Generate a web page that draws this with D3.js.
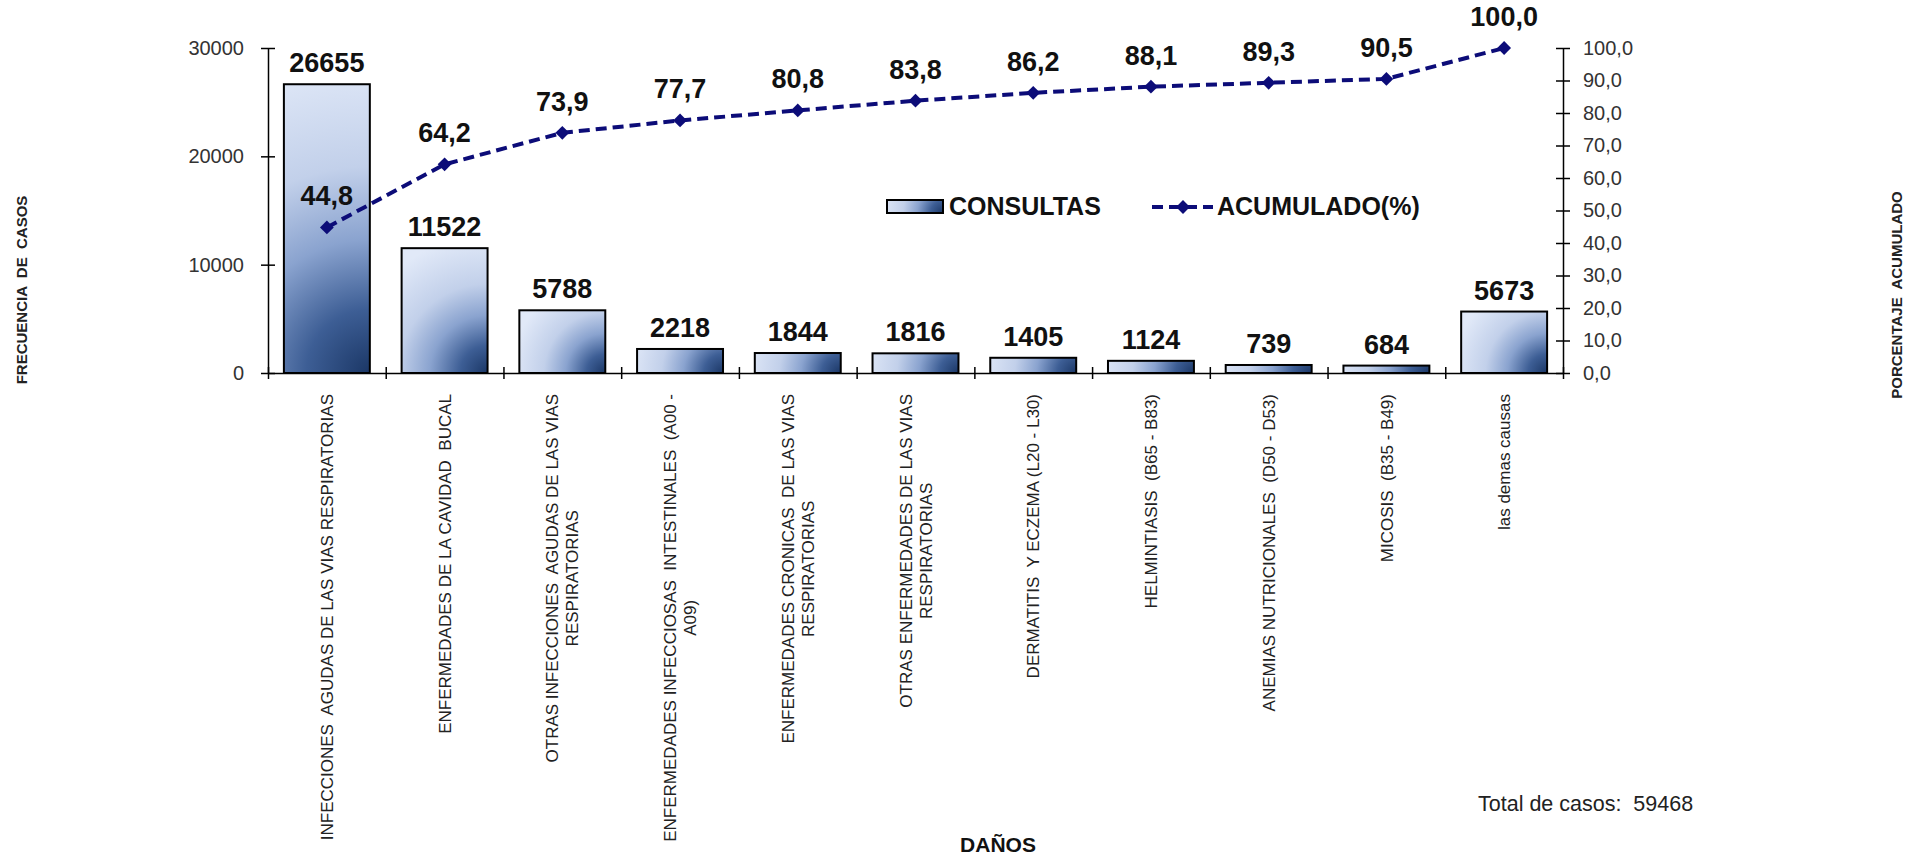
<!DOCTYPE html>
<html>
<head>
<meta charset="utf-8">
<script src="https://cdn.jsdelivr.net/npm/d3@7"></script>
<style>
  html, body { margin: 0; padding: 0; background: #ffffff; }
  svg { display: block; font-family: "Liberation Sans", Arial, Helvetica, sans-serif; }
  svg text { white-space: pre; }
</style>
</head>
<body>
<svg id="chart" width="1917" height="858"></svg>
<script>
// Categories (line breaks mark where the rotated label wraps)
const categories = [
  "INFECCIONES  AGUDAS DE LAS VIAS RESPIRATORIAS",
  "ENFERMEDADES DE LA CAVIDAD  BUCAL",
  "OTRAS INFECCIONES  AGUDAS DE LAS VIAS\nRESPIRATORIAS",
  "ENFERMEDADES INFECCIOSAS  INTESTINALES  (A00 -\nA09)",
  "ENFERMEDADES CRONICAS  DE LAS VIAS\nRESPIRATORIAS",
  "OTRAS ENFERMEDADES DE LAS VIAS\nRESPIRATORIAS",
  "DERMATITIS  Y ECZEMA (L20 - L30)",
  "HELMINTIASIS  (B65 - B83)",
  "ANEMIAS NUTRICIONALES  (D50 - D53)",
  "MICOSIS  (B35 - B49)",
  "las demas causas"
];
// Number of consultations per category
const consultas = [26655, 11522, 5788, 2218, 1844, 1816, 1405, 1124, 739, 684, 5673];
// Cumulative percentage
const acumulado = [44.8, 64.2, 73.9, 77.7, 80.8, 83.8, 86.2, 88.1, 89.3, 90.5, 100.0];
// Axis ticks
const casosTicks = [0, 10000, 20000, 30000];
const porcentajeTicks = [0, 10, 20, 30, 40, 50, 60, 70, 80, 90, 100];
const seriesNames = ["CONSULTAS", "ACUMULADO(%)"];
const axisTitles = ["FRECUENCIA  DE  CASOS", "PORCENTAJE  ACUMULADO", "DAÑOS"];
const totalCasos = 59468;

const svg = d3.select("#chart");
const plot = { left: 268, right: 1563, top: 48, bottom: 373 };
const n = categories.length;

const esLocale = d3.formatLocale({ decimal: ",", thousands: ".", grouping: [3], currency: ["", ""] });
const fmtPct = esLocale.format(".1f");

const x = d3.scaleBand()
  .domain(d3.range(n))
  .range([plot.left, plot.right])
  .paddingInner(0.27)
  .paddingOuter(0.135);
const xEdges = d3.scaleLinear().domain([0, n]).range([plot.left, plot.right]);
const yL = d3.scaleLinear().domain([0, 30000]).range([plot.bottom, plot.top]);
const yR = d3.scaleLinear().domain([0, 100]).range([plot.bottom, plot.top]);

const navy = "#0c0c78";
const defs = svg.append("defs");

// Corner shading of each bar: dark at the lower-right corner, fading to pale blue
function addBarGradient(id, x0, y0, w, h) {
  const r = Math.max(w, h) * 1.1;
  const g = defs.append("radialGradient")
    .attr("id", id)
    .attr("gradientUnits", "userSpaceOnUse")
    .attr("cx", x0 + w).attr("cy", y0 + h)
    .attr("fx", x0 + w).attr("fy", y0 + h)
    .attr("r", r);
  [[0, "#1b3766"], [0.2, "#3d5e95"], [0.42, "#8aa3cf"], [0.65, "#c2d0ea"], [1, "#e1e9f8"]]
    .forEach(([o, c]) => g.append("stop").attr("offset", o).attr("stop-color", c));
  return `url(#${id})`;
}

// Bars
const barData = consultas.map((v, i) => ({ i, v }));
svg.append("g").selectAll("rect")
  .data(barData)
  .join("rect")
  .attr("x", d => x(d.i))
  .attr("y", d => yL(d.v))
  .attr("width", x.bandwidth())
  .attr("height", d => yL(0) - yL(d.v))
  .attr("fill", d => addBarGradient("bar" + d.i, x(d.i), yL(d.v), x.bandwidth(), yL(0) - yL(d.v)))
  .attr("stroke", "#000")
  .attr("stroke-width", 2);

// Bar value labels
svg.append("g").selectAll("text")
  .data(barData)
  .join("text")
  .attr("x", d => x(d.i) + x.bandwidth() / 2)
  .attr("y", d => yL(d.v) - 12)
  .attr("text-anchor", "middle")
  .attr("font-size", 27)
  .attr("font-weight", "bold")
  .attr("fill", "#111")
  .text(d => d.v);

// Left axis with crossing ticks
const gL = svg.append("g")
  .attr("transform", `translate(${plot.left},0)`)
  .call(d3.axisLeft(yL).tickValues(casosTicks).tickSize(7).tickSizeOuter(0).tickPadding(17).tickFormat(d3.format("d")));
// Right axis
const gR = svg.append("g")
  .attr("transform", `translate(${plot.right},0)`)
  .call(d3.axisRight(yR).tickValues(porcentajeTicks).tickSize(7).tickSizeOuter(0).tickPadding(13).tickFormat(fmtPct));
// Bottom axis: ticks between categories
const gB = svg.append("g")
  .attr("transform", `translate(0,${plot.bottom})`)
  .call(d3.axisBottom(xEdges).tickValues(d3.range(n + 1)).tickSize(6).tickSizeOuter(0).tickFormat(""));

gL.selectAll(".tick line").attr("x1", 7);
gR.selectAll(".tick line").attr("x1", -7);
gB.selectAll(".tick line").attr("y1", -6);
[gL, gR, gB].forEach(g => {
  g.select(".domain").attr("stroke", "#000").attr("stroke-width", 1.5);
  g.selectAll(".tick line").attr("stroke", "#000").attr("stroke-width", 1.5);
  g.selectAll(".tick text")
    .attr("font-size", 20)
    .attr("fill", "#333")
    .attr("font-family", "\"Liberation Sans\", Arial, sans-serif");
});

// Cumulative percentage line
const ptData = acumulado.map((v, i) => ({ i, v }));
const cx = d => x(d.i) + x.bandwidth() / 2;
svg.append("path")
  .datum(ptData)
  .attr("fill", "none")
  .attr("stroke", navy)
  .attr("stroke-width", 4)
  .attr("stroke-dasharray", "11,6")
  .attr("d", d3.line().x(cx).y(d => yR(d.v)));

const diamond = d3.symbol(d3.symbolSquare, 95);
svg.append("g").selectAll("path")
  .data(ptData)
  .join("path")
  .attr("d", diamond)
  .attr("transform", d => `translate(${cx(d)},${yR(d.v)}) rotate(45)`)
  .attr("fill", navy);

svg.append("g").selectAll("text")
  .data(ptData)
  .join("text")
  .attr("x", cx)
  .attr("y", d => yR(d.v) - 22)
  .attr("text-anchor", "middle")
  .attr("font-size", 27)
  .attr("font-weight", "bold")
  .attr("fill", "#111")
  .text(d => fmtPct(d.v));

// Rotated category labels: block top-aligned under the axis, lines centred on each other
const labelTop = 394, lineH = 20;
const catG = svg.append("g").selectAll("g")
  .data(categories.map((c, i) => ({ i, lines: c.split("\n") })))
  .join("g")
  .attr("transform", d => `translate(${x(d.i) + x.bandwidth() / 2},${labelTop}) rotate(-90)`);
catG.each(function (d) {
  const g = d3.select(this);
  const texts = g.selectAll("text")
    .data(d.lines)
    .join("text")
    .attr("font-size", 17)
    .attr("fill", "#222")
    .attr("text-anchor", "middle")
    .attr("y", (t, k) => (k - (d.lines.length - 1) / 2) * lineH)
    .attr("dy", "0.36em")
    .text(t => t);
  const maxW = d3.max(texts.nodes(), node => node.getComputedTextLength());
  texts.attr("x", -maxW / 2);
});

// Axis titles
svg.append("text")
  .attr("transform", "translate(27,290) rotate(-90)")
  .attr("text-anchor", "middle")
  .attr("font-size", 15)
  .attr("font-weight", "bold")
  .attr("fill", "#222")
  .text(axisTitles[0]);
svg.append("text")
  .attr("transform", "translate(1902,295) rotate(-90)")
  .attr("text-anchor", "middle")
  .attr("font-size", 15)
  .attr("font-weight", "bold")
  .attr("fill", "#222")
  .text(axisTitles[1]);
svg.append("text")
  .attr("x", 998)
  .attr("y", 852)
  .attr("text-anchor", "middle")
  .attr("font-size", 21)
  .attr("font-weight", "bold")
  .attr("fill", "#111")
  .text(axisTitles[2]);

// Total of cases
svg.append("text")
  .attr("x", 1478)
  .attr("y", 811)
  .attr("font-size", 21.5)
  .attr("fill", "#222")
  .text(`Total de casos:  ${totalCasos}`);

// Legend
const lg = svg.append("g");
lg.append("rect")
  .attr("x", 887).attr("y", 200).attr("width", 56).attr("height", 13)
  .attr("fill", addBarGradient("legendBar", 887, 200, 56, 13))
  .attr("stroke", "#000").attr("stroke-width", 2);
lg.append("text")
  .attr("x", 949).attr("y", 215)
  .attr("font-size", 25).attr("font-weight", "bold").attr("fill", "#111")
  .text(seriesNames[0]);
lg.append("line")
  .attr("x1", 1152).attr("x2", 1213).attr("y1", 207).attr("y2", 207)
  .attr("stroke", navy).attr("stroke-width", 4).attr("stroke-dasharray", "11,6");
lg.append("path")
  .attr("d", diamond)
  .attr("transform", "translate(1183,207) rotate(45)")
  .attr("fill", navy);
lg.append("text")
  .attr("x", 1217).attr("y", 215)
  .attr("font-size", 25).attr("font-weight", "bold").attr("fill", "#111")
  .text(seriesNames[1]);
</script>
</body>
</html>
